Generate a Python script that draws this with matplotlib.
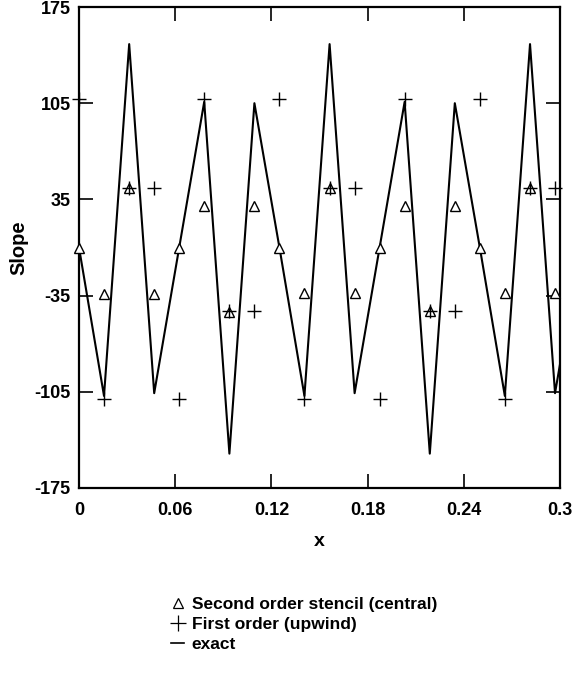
import matplotlib

matplotlib.use("Agg")
import matplotlib.pyplot as plt
from matplotlib.lines import Line2D

plt.rcParams["font.family"] = ["Liberation Sans", "DejaVu Sans"]
plt.rcParams["font.weight"] = "bold"

# sample locations (grid spacing 1/64)
x_grid = [0.0, 0.0156, 0.0313, 0.0469, 0.0625, 0.0781, 0.0938, 0.1094,
          0.125, 0.1406, 0.1563, 0.1719, 0.1875, 0.2031, 0.2188, 0.2344,
          0.25, 0.2656, 0.2813, 0.2969, 0.3125]

slope_exact = [0, -108, 148, -106, 0, 106, -150, 105,
               0, -108, 148, -106, 0, 106, -150, 105,
               0, -108, 148, -106, 0]
slope_central = [0, -34, 43, -34, 0, 30, -47, 30,
                 0, -33, 43, -33, 0, 30, -46, 30,
                 0, -33, 43, -33]
slope_upwind = [108, -110, 43, 43, -110, 108, -46, -46,
                108, -110, 43, 43, -110, 108, -46, -46,
                108, -110, 43, 43]

x_ticks = [0, 0.06, 0.12, 0.18, 0.24, 0.3]
x_labels = ["0", "0.06", "0.12", "0.18", "0.24", "0.3"]
y_ticks = [-175, -105, -35, 35, 105, 175]

fig = plt.figure(figsize=(5.76, 6.75), dpi=100)
ax = fig.add_axes([79 / 576, 1 - 488 / 675, 481 / 576, 481 / 675])

n_pts = len(slope_central)
ax.plot(x_grid, slope_exact, color="black", lw=1.5)
ax.plot(x_grid[:n_pts], slope_central, ls="none", marker="^", ms=7,
        mfc="white", mec="black", mew=1.0, clip_on=False, zorder=3)
ax.plot(x_grid[:n_pts], slope_upwind, ls="none", marker="+", ms=10,
        color="black", mew=1.0, clip_on=False, zorder=4)

ax.set_xlim(0, 0.3)
ax.set_ylim(-175, 175)
ax.set_xticks(x_ticks)
ax.set_xticklabels(x_labels)
ax.set_yticks(y_ticks)
ax.set_yticklabels([str(v) for v in y_ticks])
ax.tick_params(direction="in", length=10, width=1.2, top=True, right=True,
               labelsize=13)
ax.tick_params(axis="x", pad=10)
ax.tick_params(axis="y", pad=6)
for lbl in ax.get_xticklabels() + ax.get_yticklabels():
    lbl.set_fontweight("bold")
for sp in ax.spines.values():
    sp.set_linewidth(1.6)

ax.set_xlabel("x", fontsize=14, fontweight="bold", labelpad=10)
ax.set_ylabel("Slope", fontsize=14.5, fontweight="bold", labelpad=4)

handles = [
    Line2D([], [], ls="none", marker="^", ms=7, mfc="white", mec="black", mew=0.9),
    Line2D([], [], ls="none", marker="+", ms=11, color="black", mew=0.9),
    Line2D([], [], color="black", lw=1.2),
]
labels = ["Second order stencil (central)", "First order (upwind)", "exact"]
fig.legend(handles, labels, loc="upper left",
           bbox_to_anchor=(171 / 576, 1 - 597 / 675),
           frameon=False, handlelength=0.75, handletextpad=0.45,
           labelspacing=0.27, borderpad=0, borderaxespad=0,
           prop={"weight": "bold", "size": 12.5})

fig.savefig("out.png", dpi=100)
